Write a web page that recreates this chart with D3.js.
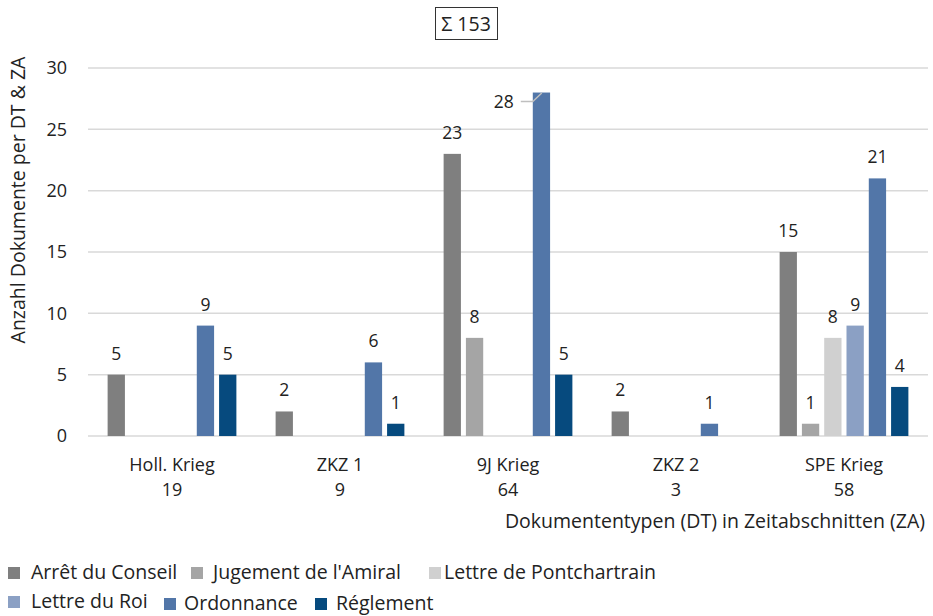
<!DOCTYPE html>
<html>
<head>
<meta charset="utf-8">
<script src="https://cdn.jsdelivr.net/npm/d3@7"></script>
<style>
  body { margin: 0; background: #fff; }
  svg { font-family: "Open Sans", "Noto Sans", sans-serif; }
</style>
</head>
<body>
<svg id="chart" width="933" height="616"></svg>
<script>
const categories = ["Holl. Krieg", "ZKZ 1", "9J Krieg", "ZKZ 2", "SPE Krieg"];
const seriesNames = ["Arrêt du Conseil", "Jugement de l'Amiral", "Lettre de Pontchartrain",
                     "Lettre du Roi", "Ordonnance", "Réglement"];
const arret = [5, 2, 23, 2, 15];
const jugement = [0, 0, 8, 0, 1];
const pontchartrain = [0, 0, 0, 0, 8];
const lettreRoi = [0, 0, 0, 0, 9];
const ordonnance = [9, 6, 28, 1, 21];
const reglement = [5, 1, 5, 0, 4];
const yTicks = [0, 5, 10, 15, 20, 25, 30];
const colors = ["#7f7f7f", "#a5a5a5", "#d0d0d0", "#8ba0c4", "#5276a8", "#064a7e"];

const seriesValues = [arret, jugement, pontchartrain, lettreRoi, ordonnance, reglement];
const totals = categories.map((_, i) => d3.sum(seriesValues, s => s[i]));
const grandTotal = d3.sum(totals);

const margin = { left: 88, right: 5, top: 68 };
const width = 933;
const plotBottom = 436;
const textColor = "#222";
const bigFont = 19.5;

const svg = d3.select("#chart");

const x0 = d3.scaleBand().domain(categories).range([margin.left, width - margin.right]);
const x1 = d3.scaleBand().domain(seriesNames).range([0, x0.bandwidth()])
  .paddingInner(0.224).paddingOuter(0.88);
const y = d3.scaleLinear().domain([0, 30]).range([plotBottom, margin.top]);

// gridlines
svg.append("g")
  .selectAll("line")
  .data(yTicks)
  .join("line")
  .attr("x1", margin.left)
  .attr("x2", width - margin.right)
  .attr("y1", d => y(d))
  .attr("y2", d => y(d))
  .attr("stroke", "#d9d9d9")
  .attr("stroke-width", 1.5);

// y tick labels
svg.append("g")
  .selectAll("text")
  .data(yTicks)
  .join("text")
  .attr("x", 67)
  .attr("y", d => y(d))
  .attr("dy", "0.35em")
  .attr("text-anchor", "end")
  .attr("font-size", 18)
  .attr("fill", textColor)
  .text(d => d);

// bars
const flat = [];
categories.forEach((c, i) => {
  seriesNames.forEach((s, j) => {
    flat.push({ cat: c, series: s, value: seriesValues[j][i], color: colors[j] });
  });
});
const nonZero = flat.filter(d => d.value > 0);

svg.append("g")
  .selectAll("rect")
  .data(nonZero)
  .join("rect")
  .attr("x", d => x0(d.cat) + x1(d.series))
  .attr("y", d => y(d.value))
  .attr("width", x1.bandwidth())
  .attr("height", d => y(0) - y(d.value))
  .attr("fill", d => d.color);

// value labels
const labels = svg.append("g");
nonZero.forEach(d => {
  const bx = x0(d.cat) + x1(d.series);
  const cx = bx + x1.bandwidth() / 2;
  const top = y(d.value);
  if (top - 30 < y(30)) {
    // no room above the bar: label goes to the left with a leader line
    const ly = top + 9;
    labels.append("text")
      .attr("x", bx - 19)
      .attr("y", ly)
      .attr("dy", "0.35em")
      .attr("text-anchor", "end")
      .attr("font-size", 17.5)
      .attr("fill", textColor)
      .text(d.value);
    labels.append("path")
      .attr("d", `M${bx - 12},${ly} L${bx},${ly} L${bx + 9},${top + 0.5}`)
      .attr("fill", "none")
      .attr("stroke", "#bfbfbf")
      .attr("stroke-width", 1.5);
  } else {
    labels.append("text")
      .attr("x", cx)
      .attr("y", top - 15)
      .attr("text-anchor", "middle")
      .attr("font-size", 17.5)
      .attr("fill", textColor)
      .text(d.value);
  }
});

// category labels + totals
const catG = svg.append("g");
categories.forEach((c, i) => {
  const cx = x0(c) + x0.bandwidth() / 2;
  catG.append("text")
    .attr("x", cx).attr("y", 471)
    .attr("text-anchor", "middle")
    .attr("font-size", 18).attr("fill", textColor)
    .text(c);
  catG.append("text")
    .attr("x", cx).attr("y", 495.5)
    .attr("text-anchor", "middle")
    .attr("font-size", 18).attr("fill", textColor)
    .text(totals[i]);
});

// axis titles
svg.append("text")
  .attr("x", 925).attr("y", 528)
  .attr("text-anchor", "end")
  .attr("font-size", bigFont).attr("fill", textColor)
  .text("Dokumententypen (DT) in Zeitabschnitten (ZA)");

svg.append("text")
  .attr("transform", `translate(25, 200) rotate(-90)`)
  .attr("text-anchor", "middle")
  .attr("font-size", bigFont).attr("fill", textColor)
  .text("Anzahl Dokumente per DT & ZA");

// sum box
const sumG = svg.append("g");
sumG.append("rect")
  .attr("x", 435.5).attr("y", 7.5)
  .attr("width", 62).attr("height", 32)
  .attr("fill", "#fff").attr("stroke", "#333").attr("stroke-width", 1);
sumG.append("text")
  .attr("x", 466).attr("y", 24)
  .attr("dy", "0.35em")
  .attr("text-anchor", "middle")
  .attr("font-size", bigFont).attr("fill", textColor)
  .text(`Σ ${grandTotal}`);

// legend
const legendPos = [
  [8, 572, 31], [191, 572, 213], [429, 572, 444],
  [8, 601, 31], [164, 603, 184], [315, 603, 336]
];
const legend = svg.append("g");
seriesNames.forEach((s, j) => {
  const [sx, ly, tx] = legendPos[j];
  legend.append("rect")
    .attr("x", sx).attr("y", ly - 5)
    .attr("width", 12).attr("height", 12)
    .attr("fill", colors[j]);
  legend.append("text")
    .attr("x", tx).attr("y", ly)
    .attr("dy", "0.35em")
    .attr("font-size", bigFont).attr("fill", textColor)
    .text(s);
});
</script>
</body>
</html>
